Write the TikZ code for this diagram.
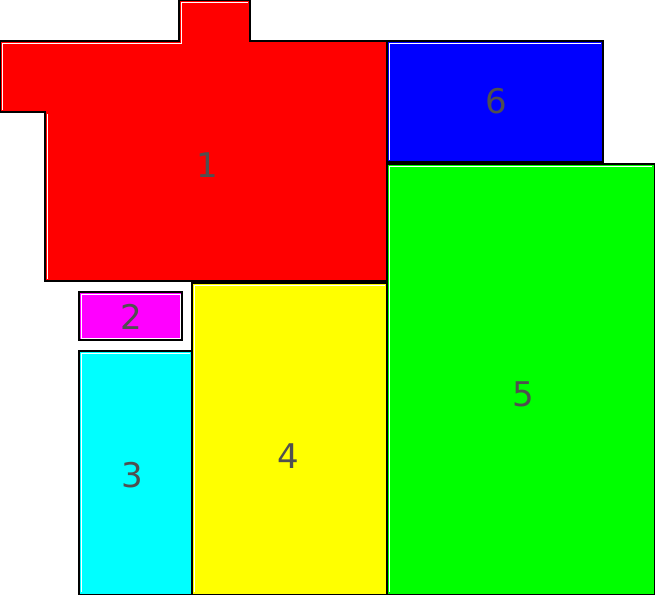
\documentclass[tikz,border=0pt]{standalone}
\usepackage{fontspec}
\setmainfont{DejaVu Sans}
\definecolor{labelgray}{HTML}{505050}
\definecolor{rmred}{HTML}{FF0000}
\definecolor{rmmag}{HTML}{FF00FF}
\definecolor{rmcyan}{HTML}{00FFFF}
\definecolor{rmyel}{HTML}{FFFF00}
\definecolor{rmgreen}{HTML}{00FF00}
\definecolor{rmblue}{HTML}{0000FF}
\tikzset{
  room/.style={draw=black, line width=1.2pt},
  hilite/.style={draw=white, line width=0.8pt},
  num/.style={text=labelgray, font=\fontsize{34}{34}\selectfont}
}
\begin{document}
\begin{tikzpicture}[x=1pt,y=-1pt]
\useasboundingbox (0,0) rectangle (655,595);
% room 1
\fill[rmred] (0.6,41) -- (179,41) -- (179,0.6) -- (250,0.6) -- (250,41) -- (387,41) -- (387,281) -- (45,281) -- (45,112) -- (0.6,112) -- cycle;
\draw[room] (0.6,41) -- (179,41) -- (179,0.6) -- (250,0.6) -- (250,41) -- (387,41) -- (387,281) -- (45,281) -- (45,112) -- (0.6,112) -- cycle;
\draw[hilite] (2.5,110) -- (2.5,43) -- (181,43) -- (181,2.5) -- (248,2.5);
\draw[hilite] (47,279) -- (47,114);
% room 6
\fill[rmblue] (387,41) rectangle (603,162);
\draw[room] (387,41) rectangle (603,162);
\draw[hilite] (389,160) -- (389,43) -- (601,43);
% room 5
\fill[rmgreen] (387,164) rectangle (654.4,594.4);
\draw[room] (387,164) rectangle (654.4,594.4);
\draw[hilite] (389,592) -- (389,166) -- (652,166);
% room 4
\fill[rmyel] (192,283) rectangle (387,594.4);
\draw[room] (192,283) rectangle (387,594.4);
\draw[hilite] (194,592) -- (194,285) -- (385,285);
% room 3
\fill[rmcyan] (79,351) rectangle (192,594.4);
\draw[room] (79,351) rectangle (192,594.4);
\draw[hilite] (81,592) -- (81,353) -- (190,353);
% room 2
\fill[rmmag] (79,292) rectangle (182,340);
\draw[room] (79,292) rectangle (182,340);
\draw[hilite] (81,338) -- (81,294) -- (180,294) -- (180,338) -- cycle;

\node[num] (n1) at (207,165) {1};
\node[num] (n2) at (131,317) {2};
\node[num] (n3) at (132,475) {3};
\node[num] (n4) at (288,456) {4};
\node[num] (n5) at (523,394) {5};
\node[num] (n6) at (496,101) {6};
\end{tikzpicture}
\end{document}
